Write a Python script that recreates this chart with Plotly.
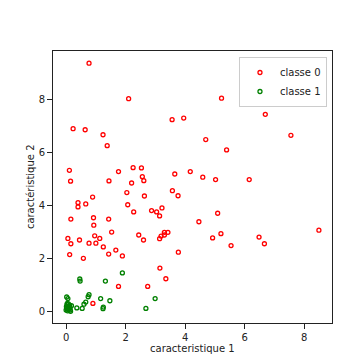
import plotly.graph_objects as go

# classe 0 (red)
x0 = [0.77, 2.10, 3.56, 3.95, 0.235, 0.64, 1.24, 1.38, 0.11, 1.76, 2.25, 2.53, 3.65, 4.17,
      0.15, 1.44, 2.56, 2.61, 2.20, 2.04, 3.57, 3.76, 0.89, 2.63, 5.22, 6.69, 4.69, 5.39,
      7.55, 4.59, 5.02, 6.15, 5.09, 4.46, 8.49, 5.20, 4.92, 6.48, 6.66, 5.54, 0.40, 0.40,
      0.66, 2.07, 2.27, 0.16, 0.92, 1.43, 0.93, 2.87, 3.04, 3.22, 3.14, 1.53, 0.06, 0.45,
      0.96, 1.13, 0.77, 1.00, 0.16, 1.25, 1.67, 1.89, 1.43, 0.12, 0.58, 2.44, 2.60, 3.14,
      3.19, 3.30, 3.42, 3.30, 3.77, 3.15, 3.35, 2.74, 1.76, 0.90]
y0 = [9.36, 8.02, 7.23, 7.29, 6.89, 6.85, 6.66, 6.25, 5.32, 5.27, 5.42, 5.41, 5.18, 5.27,
      4.91, 4.92, 5.08, 4.93, 4.84, 4.48, 4.55, 4.36, 4.31, 4.35, 8.04, 7.43, 6.48, 6.09,
      6.64, 5.06, 4.97, 4.97, 3.70, 3.38, 3.06, 2.93, 2.77, 2.80, 2.55, 2.48, 4.10, 3.94,
      4.05, 4.02, 3.75, 3.48, 3.53, 3.48, 3.25, 3.80, 3.75, 3.90, 3.60, 2.99, 2.75, 2.69,
      2.85, 2.75, 2.57, 2.57, 2.55, 2.43, 2.31, 2.09, 2.16, 2.14, 2.00, 2.88, 2.69, 2.74,
      2.84, 2.98, 2.98, 2.88, 2.23, 1.63, 1.23, 0.94, 0.94, 0.30]

# classe 1 (green)
x1 = [1.89, 0.46, 0.47, 1.32, 2.99, 2.68, 0.02, 0.06, 0.77, 0.74, 1.16, 1.47, 0.66, 0.60,
      1.25, 1.24, 0.36, 0.54, 0.18, 0.00, 0.02, 0.03, 0.05, 0.07, 0.10, 0.12, 0.14, 0.04,
      0.01, 0.08, 0.13, 0.06, 0.15]
y1 = [1.45, 1.22, 1.14, 1.14, 0.48, 0.11, 0.54, 0.48, 0.63, 0.55, 0.48, 0.40, 0.35, 0.27,
      0.16, 0.10, 0.13, 0.11, 0.21, 0.05, 0.12, 0.25, 0.02, 0.18, 0.08, 0.22, 0.05, 0.30,
      0.18, 0.28, 0.14, 0.09, 0.00]

labels = ["classe 0", "classe 1"]
x_title = "caracteristique 1"
y_title = "caractéristique 2"
x_ticks = [0, 2, 4, 6, 8]
y_ticks = [0, 2, 4, 6, 8]

fig = go.Figure()
fig.add_trace(go.Scatter(x=x0, y=y0, mode="markers", name=labels[0],
                         marker=dict(symbol="circle-open", size=4, color="red",
                                     line=dict(width=1.3, color="red"))))
fig.add_trace(go.Scatter(x=x1, y=y1, mode="markers", name=labels[1],
                         marker=dict(symbol="circle-open", size=4, color="green",
                                     line=dict(width=1.3, color="green"))))

axis_common = dict(showgrid=False, zeroline=False, showline=True, mirror=True,
                   linecolor="#222", linewidth=1, ticks="outside", ticklen=5,
                   tickcolor="#222", tickfont=dict(size=10, color="#222"))

fig.update_layout(
    width=360, height=360,
    margin=dict(l=45, r=36, t=43, b=45),
    paper_bgcolor="white", plot_bgcolor="white",
    font=dict(family="DejaVu Sans", size=10, color="#222"),
    xaxis=dict(range=[-0.44, 8.93], tickvals=x_ticks, **axis_common),
    yaxis=dict(range=[-0.44, 9.82], tickvals=y_ticks, **axis_common),
    legend=dict(x=0.982, y=0.978, xanchor="right", yanchor="top",
                bgcolor="white", bordercolor="#ccc", borderwidth=1,
                font=dict(size=10, color="#222"), itemwidth=30,
                tracegroupgap=0),
    annotations=[
        dict(text=x_title, xref="paper", yref="paper", x=0.5, y=-0.092,
             xanchor="center", yanchor="middle", showarrow=False,
             font=dict(size=10, color="#222")),
        dict(text=y_title, xref="paper", yref="paper", x=-0.082, y=0.5,
             xanchor="center", yanchor="middle", textangle=-90, showarrow=False,
             font=dict(size=10, color="#222")),
    ],
)

fig.write_html("out.html")
